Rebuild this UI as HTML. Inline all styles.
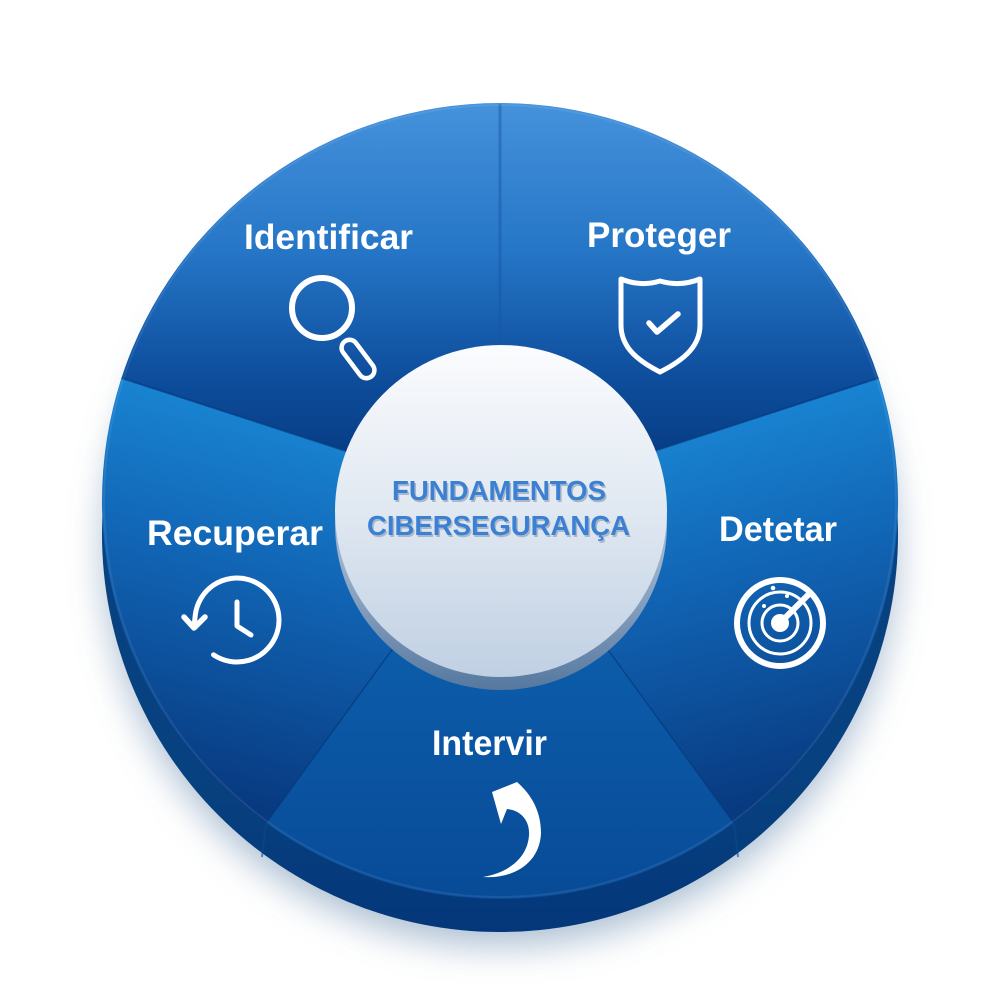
<!DOCTYPE html>
<html>
<head>
<meta charset="utf-8">
<style>
html,body{margin:0;padding:0;background:#ffffff;}
svg{display:block;}
</style>
</head>
<body>
<svg width="1000" height="1000" viewBox="0 0 1000 1000" xmlns="http://www.w3.org/2000/svg">
<defs>
  <filter id="sh" x="-30%" y="-30%" width="160%" height="160%">
    <feGaussianBlur stdDeviation="18"/>
  </filter>
  <linearGradient id="gTop" x1="0" y1="103" x2="0" y2="470" gradientUnits="userSpaceOnUse">
    <stop offset="0" stop-color="#4592dc"/>
    <stop offset="0.4" stop-color="#2676c7"/>
    <stop offset="0.75" stop-color="#0d4d9c"/>
    <stop offset="1" stop-color="#063a80"/>
  </linearGradient>
  <linearGradient id="gL" x1="330" y1="400" x2="230" y2="800" gradientUnits="userSpaceOnUse">
    <stop offset="0" stop-color="#1a8ad7"/>
    <stop offset="0.45" stop-color="#1164b4"/>
    <stop offset="1" stop-color="#083a80"/>
  </linearGradient>
  <linearGradient id="gR" x1="670" y1="400" x2="770" y2="800" gradientUnits="userSpaceOnUse">
    <stop offset="0" stop-color="#1a8ad7"/>
    <stop offset="0.45" stop-color="#1164b4"/>
    <stop offset="1" stop-color="#083a80"/>
  </linearGradient>
  <linearGradient id="gB" x1="0" y1="640" x2="0" y2="900" gradientUnits="userSpaceOnUse">
    <stop offset="0" stop-color="#0c5dab"/>
    <stop offset="1" stop-color="#084b97"/>
  </linearGradient>
  <linearGradient id="gFace" x1="0" y1="345" x2="0" y2="677" gradientUnits="userSpaceOnUse">
    <stop offset="0" stop-color="#fbfcfe"/>
    <stop offset="0.5" stop-color="#e0e8f1"/>
    <stop offset="1" stop-color="#c0d0e3"/>
  </linearGradient>
  <linearGradient id="gRim" x1="0" y1="560" x2="0" y2="690" gradientUnits="userSpaceOnUse">
    <stop offset="0" stop-color="#9cb2cd"/>
    <stop offset="1" stop-color="#56789f"/>
  </linearGradient>
  <linearGradient id="gExt" x1="0" y1="780" x2="0" y2="933" gradientUnits="userSpaceOnUse">
    <stop offset="0" stop-color="#08417f"/>
    <stop offset="1" stop-color="#03377a"/>
  </linearGradient>
</defs>

<!-- drop shadow -->
<circle cx="500" cy="550" r="396" fill="#9db3ca" opacity="0.85" filter="url(#sh)"/>

<!-- extrusion -->
<circle cx="500" cy="534" r="398" fill="url(#gExt)"/>
<line x1="266" y1="823" x2="262" y2="857" stroke="#0a4a90" stroke-width="2" opacity="0.6"/>
<line x1="734" y1="823" x2="738" y2="857" stroke="#0a4a90" stroke-width="2" opacity="0.6"/>

<!-- wedges -->
<path d="M500 501 L500 103 A398 398 0 0 1 878.5 378 Z" fill="url(#gTop)"/>
<path d="M500 501 L121.5 378 A398 398 0 0 1 500 103 Z" fill="url(#gTop)"/>
<path d="M500 501 L878.5 378 A398 398 0 0 1 733.9 823 Z" fill="url(#gR)"/>
<path d="M500 501 L733.9 823 A398 398 0 0 1 266.1 823 Z" fill="url(#gB)"/>
<path d="M500 501 L266.1 823 A398 398 0 0 1 121.5 378 Z" fill="url(#gL)"/>

<!-- boundary shading lines -->
<line x1="500" y1="501" x2="121.5" y2="378" stroke="#063a80" stroke-width="2" opacity="0.7"/>
<line x1="500" y1="501" x2="878.5" y2="378" stroke="#063a80" stroke-width="2" opacity="0.7"/>
<line x1="500" y1="501" x2="266.1" y2="823" stroke="#063578" stroke-width="1.5" opacity="0.6"/>
<line x1="500" y1="501" x2="733.9" y2="823" stroke="#063578" stroke-width="1.5" opacity="0.6"/>
<line x1="500" y1="104" x2="500" y2="360" stroke="#1656a5" stroke-width="3" opacity="0.45"/>

<circle cx="500" cy="501" r="396" fill="none" stroke="#ffffff" stroke-width="2" opacity="0.08"/>

<!-- center hub -->
<circle cx="501" cy="524" r="166" fill="url(#gRim)"/>
<circle cx="501" cy="511" r="166" fill="url(#gFace)"/>

<g font-family="'Liberation Sans', Arial, sans-serif" font-weight="bold" font-size="28" text-anchor="middle">
  <text x="500.5" y="502" fill="#a9b7c8" textLength="214" lengthAdjust="spacingAndGlyphs">FUNDAMENTOS</text>
  <text x="500" y="537" fill="#a9b7c8" textLength="263" lengthAdjust="spacingAndGlyphs">CIBERSEGURANÇA</text>
  <text x="499" y="500" fill="#3c80d3" textLength="214" lengthAdjust="spacingAndGlyphs">FUNDAMENTOS</text>
  <text x="498.5" y="535" fill="#3c80d3" textLength="263" lengthAdjust="spacingAndGlyphs">CIBERSEGURANÇA</text>
</g>

<!-- labels -->
<g font-family="'Liberation Sans', Arial, sans-serif" font-weight="bold" font-size="35" fill="#ffffff" text-anchor="middle">
  <text x="328.5" y="249" textLength="169" lengthAdjust="spacingAndGlyphs">Identificar</text>
  <text x="659" y="247" textLength="144" lengthAdjust="spacingAndGlyphs">Proteger</text>
  <text x="235" y="545" textLength="176" lengthAdjust="spacingAndGlyphs">Recuperar</text>
  <text x="778" y="541" textLength="118" lengthAdjust="spacingAndGlyphs">Detetar</text>
  <text x="489.5" y="755" textLength="115" lengthAdjust="spacingAndGlyphs">Intervir</text>
</g>

<!-- icons -->
<g fill="none" stroke="#ffffff" stroke-linecap="round" stroke-linejoin="round">
  <circle cx="322" cy="308" r="30" stroke-width="6"/>
  <rect x="-22" y="-8" width="44" height="16" rx="8" transform="translate(358 359) rotate(53)" stroke-width="4.5"/>

  <path d="M621 279 Q641 287 660 281 Q680 287 700 279 L700 325 C700 345 686 359 660 372 C634 359 621 345 621 325 Z" stroke-width="5"/>
  <path d="M649 323 L657 332 L678 314" stroke-width="5.5"/>

  <circle cx="780" cy="623" r="43" stroke-width="6"/>
  <circle cx="780" cy="623" r="31" stroke-width="3"/>
  <circle cx="780" cy="623" r="18" stroke-width="3"/>
  <line x1="780" y1="623" x2="808" y2="595" stroke-width="6"/>

  <path d="M194 627 L195.3 614.9 A42 42 0 1 1 213.5 654.8" stroke-width="5"/>
  <path d="M184 617 L194 628 L205 617" stroke-width="5.5"/>
  <path d="M237 602 L237 626 L251 635" stroke-width="5"/>
</g>
<g fill="#ffffff">
  <circle cx="780" cy="623" r="9"/>
  <circle cx="773" cy="588" r="2.3"/>
  <circle cx="787" cy="596" r="2"/>
  <circle cx="764" cy="606" r="2"/>
  <path d="M517 782 L492 792 L501 824 L507 809 C520 810 530 820 529 835 C528 855 512 872 483 877 C515 879 540 862 541 833 C541 812 532 795 517 782 Z"/>
</g>
</svg>
</body>
</html>
